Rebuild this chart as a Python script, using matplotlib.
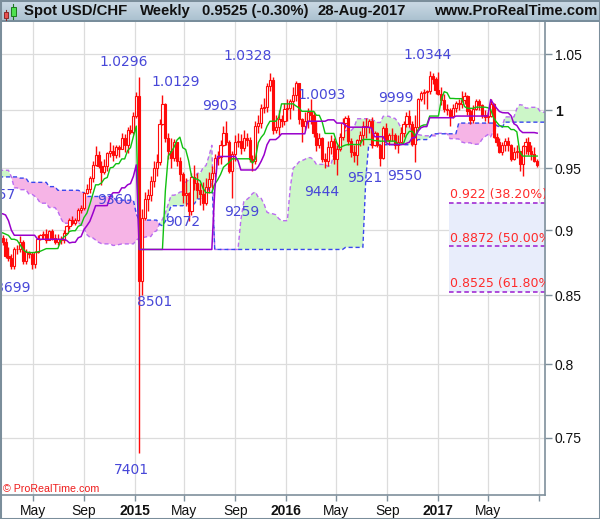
import numpy as np
import matplotlib
matplotlib.use('Agg')
import matplotlib.pyplot as plt
import matplotlib.dates as mdates
from matplotlib.patches import Rectangle
from matplotlib.ticker import FixedLocator, NullLocator
from matplotlib.colors import LinearSegmentedColormap

# ---------------- data ----------------
# weekly highs / lows before the visible window (Aug-2012 .. Feb-2014), used for the Ichimoku cloud
pre_high = [0.9730, 0.9600, 0.9600, 0.9460, 0.9380, 0.9430, 0.9440, 0.9420, 0.9370, 0.9400,
            0.9430, 0.9520, 0.9500, 0.9440, 0.9330, 0.9360, 0.9310, 0.9200, 0.9180, 0.9290,
            0.9300, 0.9370, 0.9330, 0.9300, 0.9200, 0.9270, 0.9340, 0.9440, 0.9560, 0.9570,
            0.9530, 0.9600, 0.9590, 0.9460, 0.9460, 0.9540, 0.9520, 0.9600, 0.9720, 0.9840,
            0.9700, 0.9580, 0.9370, 0.9430, 0.9500, 0.9610, 0.9780, 0.9560, 0.9450, 0.9420,
            0.9370, 0.9340, 0.9300, 0.9400, 0.9460, 0.9390, 0.9300, 0.9090, 0.9120, 0.9150,
            0.9180, 0.9060, 0.9160, 0.9200, 0.9220, 0.9160, 0.9100, 0.9090, 0.8970, 0.8980,
            0.8980, 0.8950, 0.9120, 0.9130, 0.9157, 0.9140, 0.9070]
pre_low = [0.9530, 0.9500, 0.9450, 0.9260, 0.9250, 0.9300, 0.9320, 0.9320, 0.9240, 0.9280,
           0.9300, 0.9380, 0.9410, 0.9270, 0.9260, 0.9240, 0.9180, 0.9080, 0.9100, 0.9110,
           0.9120, 0.9220, 0.9200, 0.9020, 0.9040, 0.9130, 0.9220, 0.9300, 0.9370, 0.9410,
           0.9370, 0.9450, 0.9300, 0.9250, 0.9220, 0.9330, 0.9240, 0.9300, 0.9540, 0.9630,
           0.9500, 0.9300, 0.9190, 0.9200, 0.9300, 0.9360, 0.9400, 0.9370, 0.9250, 0.9230,
           0.9160, 0.9190, 0.9180, 0.9190, 0.9270, 0.9220, 0.9030, 0.9030, 0.9000, 0.9030,
           0.9000, 0.8930, 0.8950, 0.9030, 0.9090, 0.9040, 0.9010, 0.8960, 0.8860, 0.8860,
           0.8900, 0.8800, 0.8920, 0.9030, 0.9010, 0.8970, 0.8970]

first_week = '2014-02-10'
first_open = 0.8990
high = [0.9000, 0.8960, 0.8940, 0.8870, 0.8810, 0.8870, 0.8880, 0.8950, 0.8920, 0.8850,
        0.8840, 0.8830, 0.8840, 0.8960, 0.8970, 0.8990, 0.9010, 0.9000, 0.9010, 0.8970,
        0.8970, 0.8950, 0.9000, 0.9040, 0.9100, 0.9110, 0.9100, 0.9180, 0.9200, 0.9310,
        0.9370, 0.9440, 0.9560, 0.9690, 0.9650, 0.9560, 0.9580, 0.9640, 0.9720, 0.9700,
        0.9700, 0.9700, 0.9800, 0.9790, 0.9850, 0.9870, 0.9980, 1.0160, 1.0296, 0.9170,
        0.9310, 0.9330, 0.9440, 0.9560, 0.9620, 0.9920, 1.0129, 1.0060, 0.9800, 0.9760,
        0.9750, 0.9720, 0.9600, 0.9470, 0.9420, 0.9310, 0.9460, 0.9530, 0.9460, 0.9380,
        0.9390, 0.9420, 0.9470, 0.9520, 0.9620, 0.9650, 0.9740, 0.9860, 0.9903, 0.9740,
        0.9650, 0.9780, 0.9800, 0.9790, 0.9830, 0.9800, 0.9770, 0.9610, 0.9900, 0.9960,
        1.0050, 1.0110, 1.0240, 1.0328, 1.0290, 0.9960, 1.0000, 0.9960, 1.0060, 1.0100,
        1.0100, 1.0200, 1.0257, 1.0240, 0.9930, 0.9980, 1.0020, 1.0093, 0.9990, 0.9900,
        0.9800, 0.9770, 0.9630, 0.9730, 0.9780, 0.9760, 0.9700, 0.9800, 0.9930, 0.9950,
        0.9960, 0.9760, 0.9700, 0.9750, 0.9820, 0.9900, 0.9930, 0.9920, 0.9940, 0.9820,
        0.9810, 0.9710, 0.9860, 0.9890, 0.9800, 0.9840, 0.9800, 0.9780, 0.9850, 0.9900,
        0.9980, 0.9999, 0.9900, 0.9960, 1.0110, 1.0170, 1.0190, 1.0180, 1.0344, 1.0330,
        1.0290, 1.0340, 1.0200, 1.0140, 1.0050, 1.0020, 1.0050, 1.0080, 1.0100, 1.0170,
        1.0160, 1.0130, 1.0010, 1.0040, 1.0100, 1.0100, 1.0050, 1.0000, 0.9980, 1.0100,
        1.0060, 0.9800, 0.9760, 0.9720, 0.9760, 0.9770, 0.9710, 0.9680, 0.9700, 0.9650,
        0.9700, 0.9760, 0.9770, 0.9700, 0.9680, 0.9580]
low = [0.8920, 0.8880, 0.8780, 0.8760, 0.8699, 0.8700, 0.8810, 0.8830, 0.8740, 0.8740,
       0.8780, 0.8700, 0.8702, 0.8820, 0.8920, 0.8930, 0.8900, 0.8920, 0.8920, 0.8890,
       0.8880, 0.8890, 0.8900, 0.8970, 0.9010, 0.9040, 0.9040, 0.9070, 0.9140, 0.9160,
       0.9290, 0.9300, 0.9390, 0.9520, 0.9500, 0.9360, 0.9450, 0.9480, 0.9600, 0.9560,
       0.9590, 0.9600, 0.9660, 0.9640, 0.9630, 0.9790, 0.9790, 0.9930, 0.7401, 0.8501,
       0.9080, 0.9150, 0.9230, 0.9350, 0.9440, 0.9530, 0.9870, 0.9720, 0.9580, 0.9500,
       0.9560, 0.9520, 0.9400, 0.9220, 0.9190, 0.9072, 0.9120, 0.9320, 0.9260, 0.9200,
       0.9160, 0.9200, 0.9300, 0.9340, 0.9430, 0.9530, 0.9540, 0.9690, 0.9700, 0.9460,
       0.9259, 0.9560, 0.9680, 0.9620, 0.9650, 0.9690, 0.9550, 0.9476, 0.9540, 0.9800,
       0.9840, 0.9970, 0.9980, 1.0170, 0.9790, 0.9800, 0.9780, 0.9850, 0.9870, 0.9900,
       0.9920, 1.0000, 1.0080, 0.9880, 0.9720, 0.9830, 0.9840, 0.9880, 0.9770, 0.9650,
       0.9670, 0.9550, 0.9500, 0.9520, 0.9620, 0.9540, 0.9444, 0.9650, 0.9740, 0.9840,
       0.9700, 0.9600, 0.9550, 0.9530, 0.9690, 0.9700, 0.9760, 0.9800, 0.9670, 0.9690,
       0.9680, 0.9521, 0.9580, 0.9720, 0.9700, 0.9730, 0.9660, 0.9630, 0.9720, 0.9770,
       0.9850, 0.9850, 0.9690, 0.9550, 0.9840, 1.0080, 1.0050, 1.0010, 1.0140, 1.0230,
       1.0140, 1.0130, 1.0040, 0.9980, 0.9960, 0.9860, 0.9930, 0.9980, 1.0000, 1.0020,
       1.0050, 0.9960, 0.9880, 0.9890, 1.0000, 1.0000, 0.9930, 0.9900, 0.9890, 0.9940,
       0.9760, 0.9690, 0.9630, 0.9610, 0.9650, 0.9650, 0.9560, 0.9570, 0.9590, 0.9480,
       0.9438, 0.9620, 0.9610, 0.9570, 0.9550, 0.9510]
close = [0.8940, 0.8910, 0.8800, 0.8780, 0.8720, 0.8850, 0.8850, 0.8910, 0.8760, 0.8830,
         0.8810, 0.8740, 0.8830, 0.8930, 0.8960, 0.8970, 0.8920, 0.8990, 0.8940, 0.8910,
         0.8930, 0.8920, 0.8980, 0.9030, 0.9080, 0.9060, 0.9080, 0.9160, 0.9180, 0.9300,
         0.9330, 0.9420, 0.9530, 0.9610, 0.9520, 0.9470, 0.9520, 0.9630, 0.9650, 0.9610,
         0.9680, 0.9660, 0.9760, 0.9700, 0.9830, 0.9810, 0.9950, 1.0120, 0.8610, 0.9100,
         0.9250, 0.9280, 0.9400, 0.9500, 0.9550, 0.9880, 1.0050, 0.9760, 0.9650, 0.9590,
         0.9720, 0.9560, 0.9450, 0.9280, 0.9300, 0.9150, 0.9430, 0.9380, 0.9320, 0.9290,
         0.9220, 0.9350, 0.9410, 0.9460, 0.9590, 0.9600, 0.9700, 0.9800, 0.9720, 0.9480,
         0.9620, 0.9720, 0.9730, 0.9670, 0.9760, 0.9740, 0.9580, 0.9560, 0.9860, 0.9890,
         1.0020, 1.0030, 1.0210, 1.0270, 0.9830, 0.9850, 0.9920, 0.9900, 1.0010, 1.0020,
         1.0080, 1.0130, 1.0240, 0.9920, 0.9860, 0.9900, 0.9980, 0.9960, 0.9800, 0.9700,
         0.9760, 0.9580, 0.9560, 0.9680, 0.9730, 0.9580, 0.9660, 0.9770, 0.9890, 0.9930,
         0.9730, 0.9640, 0.9610, 0.9740, 0.9780, 0.9860, 0.9850, 0.9900, 0.9700, 0.9800,
         0.9700, 0.9590, 0.9840, 0.9740, 0.9780, 0.9780, 0.9700, 0.9720, 0.9800, 0.9880,
         0.9950, 0.9880, 0.9710, 0.9850, 1.0100, 1.0150, 1.0160, 1.0170, 1.0300, 1.0280,
         1.0180, 1.0140, 1.0090, 1.0010, 1.0000, 0.9950, 1.0020, 1.0060, 1.0050, 1.0090,
         1.0120, 0.9990, 0.9910, 1.0010, 1.0080, 1.0040, 0.9960, 0.9940, 0.9950, 1.0050,
         0.9770, 0.9720, 0.9640, 0.9700, 0.9730, 0.9700, 0.9580, 0.9640, 0.9650, 0.9540,
         0.9690, 0.9720, 0.9650, 0.9620, 0.9560, 0.9525]

# swing-point annotations
piv_text = ['9157', '8699', '9360', '1.0296', '7401', '8501', '1.0129', '9072', '9903', '9259',
            '1.0328', '1.0093', '9444', '9521', '9999', '9550', '1.0344']
piv_date = ['2014-01-20', '2014-03-10', '2014-10-13', '2015-01-12', '2015-01-12', '2015-01-19',
            '2015-03-09', '2015-05-11', '2015-08-10', '2015-08-24', '2015-11-23', '2016-02-29',
            '2016-05-02', '2016-08-15', '2016-10-24', '2016-11-07', '2016-12-12']
piv_value = [0.9157, 0.8699, 0.9360, 1.0296, 0.7401, 0.8501, 1.0129, 0.9072, 0.9903, 0.9259,
             1.0328, 1.0093, 0.9444, 0.9521, 0.9999, 0.9550, 1.0344]
piv_dx = [7, 1, 13, -16, -8, 13, 13, -6, -7, 10, -22, 11, -15, -16, -13, -10, -2]
piv_dy = [-15, 19, 15, -15, 17, 7, -13, 1, -15, 14, -17, -4, 17, 12, -12, 14, -16]

# Fibonacci retracement
fib_high = 1.0344
fib_low = 0.7401
fib_ratios = [0.382, 0.5, 0.618]
fib_labels = ['0.922 (38.20%)', '0.8872 (50.00%)', '0.8525 (61.80%)']
fib_start = '2017-01-27'

y_ticks = [0.75, 0.8, 0.85, 0.9, 0.95, 1.0, 1.05]
y_tick_labels = ['0.75', '0.8', '0.85', '0.9', '0.95', '1', '1.05']
x_tick_dates = ['2014-05-01', '2014-09-01', '2015-01-01', '2015-05-01', '2015-09-01', '2016-01-01',
                '2016-05-01', '2016-09-01', '2017-01-01', '2017-05-01', '2017-09-01']
x_tick_labels = ['May', 'Sep', '2015', 'May', 'Sep', '2016', 'May', 'Sep', '2017', 'May', '']

title_parts = ['Spot USD/CHF', 'Weekly', '0.9525 (-0.30%)', '28-Aug-2017', 'www.ProRealTime.com']

# ---------------- computations ----------------
high_a = np.array(high)
low_a = np.array(low)
close_a = np.array(close)
open_a = np.concatenate([[first_open], close_a[:-1]])
n = len(close_a)
npre = len(pre_high)

t0 = np.datetime64(first_week)
week_dates = t0 + np.arange(-npre, n + 27) * np.timedelta64(7, 'D')
xnum = mdates.date2num(week_dates.astype('datetime64[s]').astype(object))
xv = xnum[npre:npre + n]

H = np.concatenate([pre_high, high_a])
L = np.concatenate([pre_low, low_a])
NT = len(H)


def mid(period, i):
    a = max(0, i - period + 1)
    return (H[a:i + 1].max() + L[a:i + 1].min()) / 2.0


tenkan = np.array([mid(9, i) for i in range(NT)])
kijun = np.array([mid(26, i) for i in range(NT)])
spanB_raw = np.array([mid(52, i) for i in range(NT)])
spanA = np.full(NT + 26, np.nan)
spanB = np.full(NT + 26, np.nan)
spanA[26:] = (tenkan + kijun) / 2.0
spanB[26:] = spanB_raw
xs = xnum[:NT + 26]

# ---------------- figure ----------------
W, HH = 600, 519
fig = plt.figure(figsize=(W / 100, HH / 100), dpi=100)
fig.patch.set_facecolor('white')

ax = fig.add_axes([0, (HH - 495) / HH, 545 / W, (495 - 22) / HH])
ax.set_yscale('log')
origin = mdates.date2num(np.datetime64('2017-01-01').astype(object))
ppd = 0.415
ax.set_xlim(origin - 438 / ppd, origin + 107 / ppd)
ax.set_ylim(np.exp((110 - 495) / 1140.0), np.exp((110 - 22) / 1140.0))

axis_col = '#7f909c'
for s in ['left', 'top']:
    ax.spines[s].set_visible(False)
for s in ['right', 'bottom']:
    ax.spines[s].set_color(axis_col)
    ax.spines[s].set_linewidth(1.2)

# grid / ticks
ax.yaxis.set_major_locator(FixedLocator(y_ticks))
ax.yaxis.set_minor_locator(NullLocator())
xt = mdates.date2num(np.array(x_tick_dates, dtype='datetime64[D]').astype(object))
ax.xaxis.set_major_locator(FixedLocator(xt))
ax.xaxis.set_minor_locator(NullLocator())
ax.grid(True, color='#dcdcdc', lw=0.9, zorder=0)
ax.set_axisbelow(True)

ax.yaxis.tick_right()
ax.set_yticks(y_ticks)
ax.set_yticklabels(y_tick_labels)
ax.set_xticks(xt)
ax.set_xticklabels(x_tick_labels)
ax.tick_params(axis='y', which='major', direction='out', length=5, width=1, color=axis_col,
               labelsize=10, pad=2, labelcolor='#111111')
ax.tick_params(axis='x', which='major', direction='out', length=4, width=1, color=axis_col,
               labelsize=10, pad=2.5, labelcolor='#111111')
for lab in ax.get_yticklabels():
    lab.set_fontfamily('Liberation Sans')
    if lab.get_text() == '1':
        lab.set_fontweight('bold')
for lab in ax.get_xticklabels():
    lab.set_fontfamily('Liberation Sans')
    if lab.get_text().isdigit():
        lab.set_fontweight('bold')

# Ichimoku cloud
green_fill = '#ccf6c8'
pink_fill = '#f6b4e6'
ax.fill_between(xs, spanA, spanB, where=spanA >= spanB, interpolate=True, color=green_fill, lw=0, zorder=1)
ax.fill_between(xs, spanA, spanB, where=spanA < spanB, interpolate=True, color=pink_fill, lw=0, zorder=1)
ax.plot(xs, spanA, color='#bb6cf0', lw=1.0, ls=(0, (3, 2)), zorder=2)
ax.plot(xs, spanB, color='#3a46ee', lw=1.0, ls=(0, (3, 2)), zorder=2)

# Fibonacci
fx0 = mdates.date2num(np.datetime64(fib_start).astype(object))
fx1 = origin + 140 / ppd
fib_levels = [fib_high - r * (fib_high - fib_low) for r in fib_ratios]
ax.fill_between([fx0, fx1], [fib_levels[-1]] * 2, [fib_levels[0]] * 2, color='#e8edfb', lw=0, zorder=1)
for lv, lab in zip(fib_levels, fib_labels):
    ax.plot([fx0, fx1], [lv, lv], color='#9a1bd0', lw=1.1, ls=(0, (3, 2)), zorder=2)
    t = ax.annotate(lab, xy=(fx0, lv), xytext=(1, 8), textcoords='offset pixels', ha='left',
                    va='center', color='#ff2b2b', fontsize=9.0, family='DejaVu Sans', zorder=6,
                    annotation_clip=False)
    t.set_clip_on(True)
    t.set_clip_path(ax.patch)

# candles
red = '#ff0a0a'
ax.vlines(xv, low_a, high_a, color=red, lw=1.0, zorder=3)
up = close_a >= open_a
bot = np.minimum(open_a, close_a)
hgt = np.maximum(np.abs(close_a - open_a), 0.0004)
faces = np.where(up, 'white', red)
ax.bar(xv, hgt, bottom=bot, width=5.2, color=faces, edgecolor=red, linewidth=0.8, zorder=4)

# Tenkan / Kijun
ax.plot(xv, tenkan[npre:], color='#10c010', lw=1.0, zorder=5)
ax.plot(xv, kijun[npre:], color='#9900cc', lw=1.1, zorder=5)

# swing labels
for t, d, v, dx, dy in zip(piv_text, piv_date, piv_value, piv_dx, piv_dy):
    xd = mdates.date2num(np.datetime64(d).astype(object))
    txt = ax.annotate(t, xy=(xd, v), xytext=(dx, -dy), textcoords='offset pixels', ha='center',
                      va='center', color='#4747d8', fontsize=10, family='DejaVu Sans', zorder=7,
                      annotation_clip=False)
    txt.set_clip_on(True)
    txt.set_clip_path(ax.patch)

ax.text(3, 30, '\u00a9 ProRealTime.com', transform=None, color='#ee1c1c', fontsize=7.7,
        family='Liberation Sans', va='center', ha='left', zorder=8)

# ---------------- title bar ----------------
tb = fig.add_axes([0, 1 - 22 / HH, 1, 22 / HH])
tb.set_xlim(0, W)
tb.set_ylim(22, 0)
tb.axis('off')
grad = np.linspace(0, 1, 50).reshape(-1, 1)
cm = LinearSegmentedColormap.from_list('tb', ['#cddbe6', '#a8bfce'])
tb.imshow(grad, cmap=cm, extent=(0, W, 22, 0), aspect='auto', zorder=0)
tb.plot([0, W], [21.5, 21.5], color='#6f8391', lw=1.2, zorder=2)
# icon
tb.plot([5.7, 5.7], [10, 20], color='#8a2a2a', lw=0.8, zorder=3)
tb.add_patch(Rectangle((3.5, 12), 4.5, 6.5, facecolor='#e85050', edgecolor='#8a2a2a', lw=0.7, zorder=4))
tb.plot([13, 13], [4, 19.5], color='#1f7a1f', lw=0.8, zorder=3)
tb.add_patch(Rectangle((10.5, 6.8), 5, 9.5, facecolor='#4fe04f', edgecolor='#1f7a1f', lw=0.7, zorder=4))
title_x = [24, 140, 202, 318, 434]
for tx, s in zip(title_x, title_parts):
    tb.text(tx, 11.5, s, ha='left', va='center', fontsize=10.7, fontweight='bold',
            family='Liberation Sans', color='#111111', zorder=5)

# outer frame
fig.add_artist(Rectangle((0, 0), 1, 1, transform=fig.transFigure, fill=False, ec='#7b8e9b', lw=2.2))

fig.savefig('out.png', dpi=100, facecolor='white')
